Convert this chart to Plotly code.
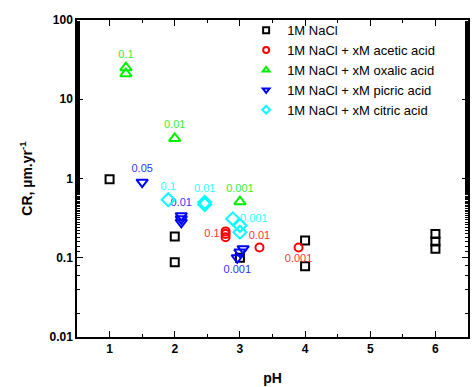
import plotly.graph_objects as go

# ---- data ----
nacl_x = [1, 2, 2, 3, 4, 4, 6, 6, 6]
nacl_y = [0.98, 0.186, 0.088, 0.1, 0.165, 0.078, 0.20, 0.16, 0.13]

acetic_x = [2.78, 2.78, 2.78, 3.3, 3.9]
acetic_y = [0.215, 0.2, 0.182, 0.135, 0.135]
acetic_lbl = ["", "0.1", "", "0.01", "0.001"]
acetic_pos = ["middle left", "middle left", "middle left", "top center", "bottom center"]

oxalic_x = [1.25, 1.25, 2, 3]
oxalic_y = [25, 21, 3.2, 0.51]
oxalic_lbl = ["0.1", "", "0.01", "0.001"]
oxalic_pos = ["top center", "top center", "top center", "top center"]

picric_x = [1.5, 2.1, 2.1, 2.1, 2.96, 3.0, 3.05]
picric_y = [0.9, 0.34, 0.31, 0.28, 0.10, 0.118, 0.13]
picric_lbl = ["0.05", "0.01", "", "", "0.001", "", ""]
picric_pos = ["top center", "top center", "top center", "top center",
              "bottom center", "bottom center", "bottom center"]

citric_x = [1.9, 2.46, 2.46, 2.89, 3.0, 3.0]
citric_y = [0.54, 0.5, 0.47, 0.31, 0.255, 0.21]
citric_lbl = ["0.1", "0.01", "", "0.001", "", ""]
citric_pos = ["top center", "top center", "top center", "middle right", "top right", "top right"]

names = ["1M NaCl", "1M NaCl + xM acetic acid", "1M NaCl + xM oxalic acid",
         "1M NaCl + xM picric acid", "1M NaCl + xM citric acid"]

x_ticks = [1, 2, 3, 4, 5, 6]
y_ticks = [0.01, 0.1, 1, 10, 100]
y_ticklabels = ["0.01", "0.1", "1", "10", "100"]

FONT = "Arial, Liberation Sans, sans-serif"
colors = ["#000000", "#FF0000", "#00EE00", "#0000FF", "#00FFFF"]
label_colors = ["#000000", "#FF3333", "#33EE33", "#3333FF", "#33FFFF"]
symbols = ["square-open", "circle-open", "triangle-up-open", "triangle-down-open", "diamond-open"]
sizes = [8, 8, 10, 10, 10]

series = [
    (nacl_x, nacl_y, None, None),
    (acetic_x, acetic_y, acetic_lbl, acetic_pos),
    (oxalic_x, oxalic_y, oxalic_lbl, oxalic_pos),
    (picric_x, picric_y, picric_lbl, picric_pos),
    (citric_x, citric_y, citric_lbl, citric_pos),
]

fig = go.Figure()
for i, (xs, ys, lbl, pos) in enumerate(series):
    tr = dict(
        x=xs, y=ys, showlegend=False,
        marker=dict(symbol=symbols[i], size=sizes[i], color=colors[i],
                    line=dict(width=2, color=colors[i])),
    )
    if lbl is not None:
        tr.update(mode="markers+text", text=lbl, textposition=pos,
                  textfont=dict(family=FONT, size=11, color=label_colors[i]))
    else:
        tr.update(mode="markers")
    fig.add_trace(go.Scatter(**tr))

# legend entries with smaller markers
for i, nm in enumerate(names):
    fig.add_trace(go.Scatter(
        x=[None], y=[None], mode="markers", name=nm,
        marker=dict(symbol=symbols[i], size=6, color=colors[i],
                    line=dict(width=2, color=colors[i])),
    ))

axis_common = dict(
    showline=True, linecolor="black", linewidth=1.5, mirror="ticks",
    ticks="inside", tickcolor="black", tickwidth=1.2, ticklen=6,
    showgrid=False, zeroline=False,
    tickfont=dict(family=FONT, size=12, color="black", weight="bold"),
)

fig.update_layout(
    width=472, height=387,
    margin=dict(l=77, r=2, t=20, b=50),
    paper_bgcolor="white", plot_bgcolor="white",
    font=dict(family=FONT, color="black"),
    xaxis=dict(
        range=[0.5, 6.5], tickvals=x_ticks,
        minor=dict(ticks="inside", ticklen=3, tickcolor="black", dtick=0.5, showgrid=False),
        title=dict(text="pH", font=dict(family=FONT, size=14, weight="bold"), standoff=18),
        **axis_common,
    ),
    yaxis=dict(
        type="log", range=[-2, 2], tickvals=y_ticks, ticktext=y_ticklabels,
        minor=dict(ticks="inside", ticklen=3, tickcolor="black", showgrid=False),
        title=dict(text="CR, µm.yr<sup>-1</sup>", font=dict(family=FONT, size=14, weight="bold"), standoff=14),
        **axis_common,
    ),
    legend=dict(
        x=0.43, y=1.015, xanchor="left", yanchor="top",
        bgcolor="rgba(0,0,0,0)", borderwidth=0,
        font=dict(family=FONT, size=13, color="black"),
        tracegroupgap=0, itemwidth=32,
    ),
)

fig.write_html("out.html")
